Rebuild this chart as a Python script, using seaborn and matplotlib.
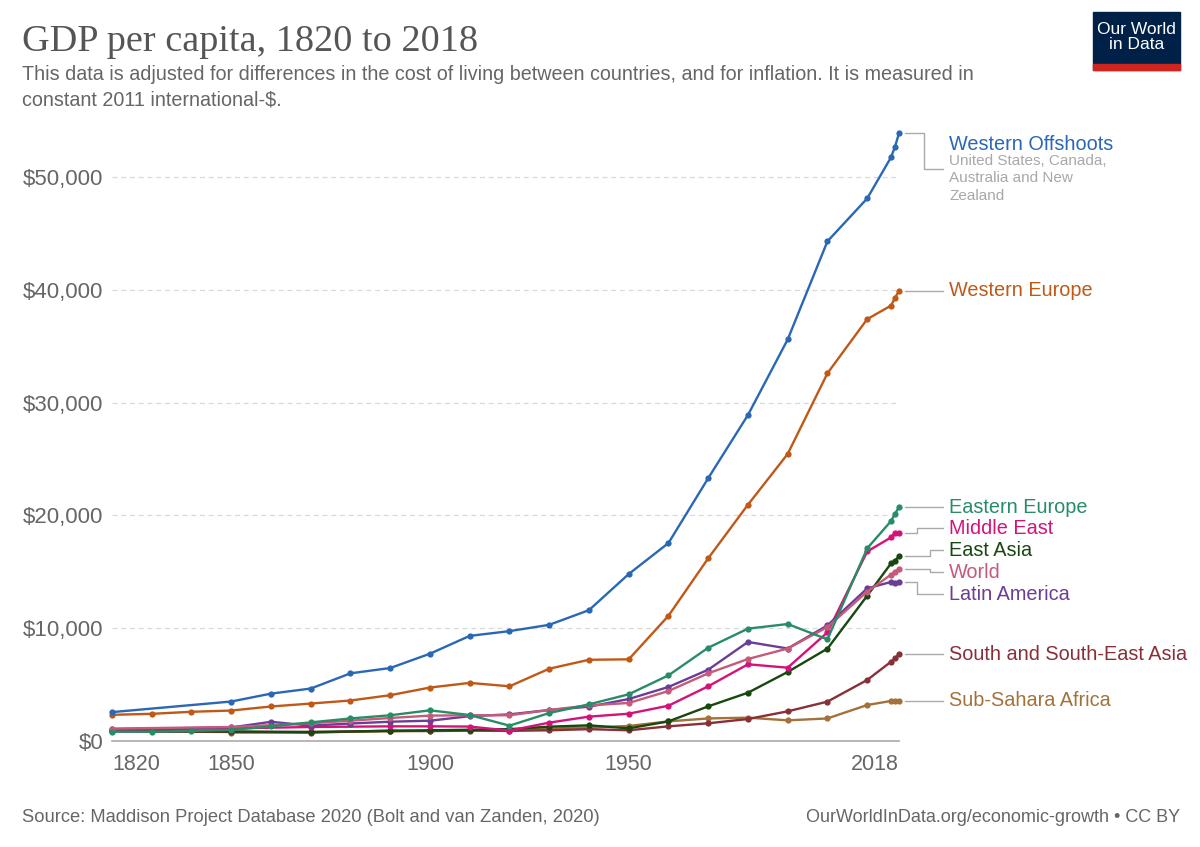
import matplotlib
matplotlib.use("Agg")
import matplotlib.pyplot as plt
import seaborn as sns
import pandas as pd
from matplotlib.lines import Line2D
from matplotlib.patches import Rectangle

# GDP per capita in 2011 int.-$
years_wo = [1820, 1850, 1860, 1870, 1880, 1890, 1900, 1910, 1920, 1930, 1940, 1950,
            1960, 1970, 1980, 1990, 2000, 2010, 2016, 2017, 2018]
western_offshoots = [2560, 3500, 4200, 4650, 6000, 6470, 7740, 9320, 9740, 10300, 11600, 14800,
                     17550, 23300, 28900, 35600, 44300, 48100, 51750, 52700, 53870]

years_we = [1820, 1830, 1840, 1850, 1860, 1870, 1880, 1890, 1900, 1910, 1920, 1930, 1940, 1950,
            1960, 1970, 1980, 1990, 2000, 2010, 2016, 2017, 2018]
western_europe = [2320, 2410, 2590, 2700, 3060, 3320, 3590, 4060, 4740, 5150, 4850, 6410, 7200, 7240,
                  11100, 16200, 20950, 25450, 32600, 37400, 38600, 39300, 39900]

years_ee = years_we
eastern_europe = [830, 830, 890, 980, 1300, 1650, 2000, 2280, 2720, 2300, 1360, 2480, 3250, 4140,
                  5820, 8270, 9960, 10370, 9010, 17080, 19500, 20150, 20740]

years_world = [1820, 1850, 1870, 1880, 1890, 1900, 1910, 1920, 1930, 1940, 1950,
               1960, 1970, 1980, 1990, 2000, 2010, 2016, 2017, 2018]
world = [1100, 1240, 1570, 1800, 2040, 2250, 2280, 2280, 2750, 3160, 3370,
         4430, 6000, 7270, 8200, 10100, 13240, 14750, 15000, 15250]

years_la = [1820, 1850, 1860, 1870, 1880, 1890, 1900, 1910, 1920, 1930, 1940, 1950,
            1960, 1970, 1980, 1990, 2000, 2010, 2016, 2017, 2018]
latin_america = [1050, 1200, 1700, 1360, 1550, 1710, 1800, 2200, 2360, 2750, 3040, 3720,
                 4790, 6320, 8780, 8200, 10250, 13530, 14100, 14050, 14100]

years_asia = [1820, 1850, 1870, 1890, 1900, 1910, 1920, 1930, 1940, 1950,
              1960, 1970, 1980, 1990, 2000, 2010, 2016, 2017, 2018]
middle_east = [1000, 1120, 1240, 1300, 1300, 1280, 920, 1630, 2160, 2420,
               3130, 4850, 6800, 6500, 9630, 16800, 18050, 18470, 18470]
east_asia = [900, 850, 800, 900, 950, 1000, 1050, 1270, 1390, 1120,
             1740, 3070, 4280, 6120, 8190, 12880, 15750, 15990, 16370]
south_asia = [850, 800, 740, 920, 880, 920, 900, 950, 1050, 950,
              1300, 1570, 1950, 2630, 3490, 5410, 7030, 7330, 7710]

years_ssa = [1850, 1870, 1890, 1900, 1910, 1920, 1930, 1940, 1950,
             1960, 1970, 1980, 1990, 2000, 2010, 2016, 2017, 2018]
sub_sahara = [750, 800, 850, 900, 950, 1000, 1100, 1200, 1330,
              1740, 2000, 2070, 1830, 2000, 3190, 3550, 3560, 3560]

series = [
    ("Sub-Sahara Africa", years_ssa, sub_sahara, "#a2723a"),
    ("South and South-East Asia", years_asia, south_asia, "#883039"),
    ("East Asia", years_asia, east_asia, "#18480f"),
    ("Middle East", years_asia, middle_east, "#d4137a"),
    ("Latin America", years_la, latin_america, "#6b3d96"),
    ("World", years_world, world, "#c65a78"),
    ("Eastern Europe", years_ee, eastern_europe, "#288c67"),
    ("Western Europe", years_we, western_europe, "#c05917"),
    ("Western Offshoots", years_wo, western_offshoots, "#2a67b4"),
]

rows = []
for name, yrs, vals, _ in series:
    for y, v in zip(yrs, vals):
        rows.append({"year": y, "gdp": v, "region": name})
df = pd.DataFrame(rows)
palette = {name: c for name, _, _, c in series}

sns.set_style("white")
plt.rcParams["font.family"] = ["Liberation Sans", "DejaVu Sans"]

W, H = 1200, 847
fig = plt.figure(figsize=(12, 8.47), dpi=100)


def fx(px):
    return px / W


def fy(py):
    return 1 - py / H


ymax = 55000
bottom_px, left_px, right_px = 741, 112, 899
top_px = bottom_px - ymax * 0.01128
ax = fig.add_axes([fx(left_px), fy(bottom_px), fx(right_px - left_px), (bottom_px - top_px) / H])

sns.lineplot(data=df, x="year", y="gdp", hue="region", hue_order=[s[0] for s in series],
             palette=palette, marker="o", markersize=4.5, markeredgewidth=0,
             linewidth=1.7, legend=False, ax=ax)
for ln in ax.lines:
    ln.set_clip_on(False)

ax.set_xlim(1820, 2018)
ax.set_ylim(0, ymax)
ax.set_xlabel("")
ax.set_ylabel("")

grey = "#666666"
ax.set_yticks([0, 10000, 20000, 30000, 40000, 50000])
ax.set_yticklabels(["$0", "$10,000", "$20,000", "$30,000", "$40,000", "$50,000"])
for v in [10000, 20000, 30000, 40000, 50000]:
    ax.axhline(v, color="#d9d9d9", lw=0.9, ls=(0, (4, 3)), zorder=0)
ax.tick_params(axis="y", length=0, pad=6, labelsize=16, labelcolor=grey)

ax.set_xticks([1820, 1850, 1900, 1950, 2018])
ax.set_xticklabels(["1820", "1850", "1900", "1950", "2018"])
ax.tick_params(axis="x", length=5, width=1, color="#aaaaaa", pad=4, labelsize=15.5, labelcolor=grey)
xt = ax.get_xticklabels()
xt[0].set_horizontalalignment("left")
xt[-1].set_horizontalalignment("right")

for s in ["top", "right", "left"]:
    ax.spines[s].set_visible(False)
ax.spines["bottom"].set_color("#aaaaaa")
ax.spines["bottom"].set_linewidth(1.2)

# labels on the right, with elbow connectors (others run straight)
label_y = {
    "Western Offshoots": 144, "Middle East": 528, "East Asia": 550,
    "World": 572, "Latin America": 594,
}
elbow_x = {
    "Western Offshoots": 924, "Middle East": 917, "East Asia": 930,
    "World": 930, "Latin America": 917,
}
conn_end_y = {"Western Offshoots": 169}
for name, yrs, vals, color in series:
    _, disp_y = ax.transData.transform((yrs[-1], vals[-1]))
    start_py = H - disp_y
    ly = label_y.get(name, start_py)
    end_py = conn_end_y.get(name, ly)
    ex = elbow_x.get(name, 924)
    xs = [905, ex, ex, 943]
    ys = [start_py, start_py, end_py, end_py]
    fig.add_artist(Line2D([fx(x) for x in xs], [fy(y) for y in ys], color="#aaaaaa", lw=1))
    fig.text(fx(949), fy(ly), name, color=color, fontsize=14.3, va="center", ha="left")

fig.text(fx(949), fy(154), "United States, Canada,\nAustralia and New\nZealand", color="#a8a8a8",
         fontsize=11, va="top", ha="left", linespacing=1.3)

# header
fig.text(fx(22), fy(42), "GDP per capita, 1820 to 2018", family=["Liberation Serif", "DejaVu Serif"],
         fontsize=27.5, color="#555555", va="center", ha="left")
fig.text(fx(22), fy(75), "This data is adjusted for differences in the cost of living between countries, and for inflation. It is measured in",
         fontsize=14.2, color=grey, va="center", ha="left")
fig.text(fx(22), fy(100), "constant 2011 international-$.", fontsize=14.2, color=grey, va="center", ha="left")

# logo
fig.add_artist(Rectangle((fx(1093), fy(70)), fx(87), 58 / H, color="#002147"))
fig.add_artist(Rectangle((fx(1093), fy(70)), fx(87), 6 / H, color="#ce261e"))
fig.text(fx(1136.5), fy(37), "Our World\nin Data", color="white", fontsize=12.5,
         ha="center", va="center", linespacing=0.95)

# footer
fig.text(fx(22), fy(817), "Source: Maddison Project Database 2020 (Bolt and van Zanden, 2020)",
         fontsize=13.2, color=grey, va="center", ha="left")
fig.text(fx(1180), fy(817), "OurWorldInData.org/economic-growth • CC BY",
         fontsize=13, color=grey, va="center", ha="right")

fig.savefig("out.png", dpi=100, facecolor="white")
